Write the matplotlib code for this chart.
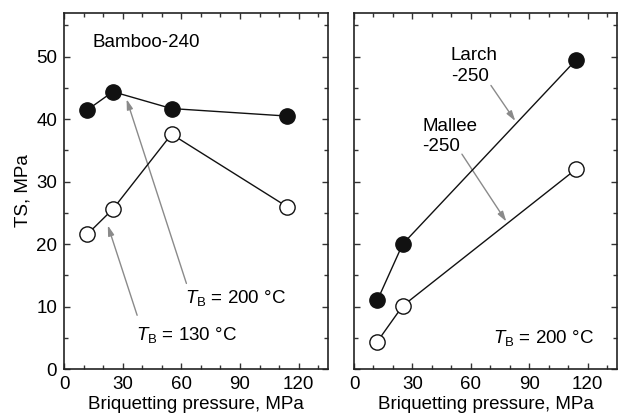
import matplotlib
matplotlib.use("Agg")
import matplotlib.pyplot as plt
from matplotlib.ticker import MultipleLocator

plt.rcParams["font.family"] = ["Liberation Sans", "DejaVu Sans"]
plt.rcParams["mathtext.fontset"] = "custom"
plt.rcParams["mathtext.it"] = "Liberation Sans:italic"
plt.rcParams["mathtext.rm"] = "Liberation Sans"

# briquetting pressure, MPa
bamboo_p = [12, 25, 55, 114]
bamboo_ts_200 = [41.5, 44.4, 41.7, 40.5]
bamboo_ts_130 = [21.6, 25.6, 37.6, 26.0]

wood_p = [12, 25, 114]
larch_ts = [11.0, 20.0, 49.5]
mallee_ts = [4.4, 10.1, 32.0]

FS = 13.5
GRAY = "#8a8a8a"

fig = plt.figure(figsize=(6.21, 4.16), dpi=100)
ax1 = fig.add_axes([64 / 621, 47 / 416, 264 / 621, 356 / 416])
ax2 = fig.add_axes([354 / 621, 47 / 416, 263 / 621, 356 / 416])


def style(ax):
    ax.set_xlim(0, 135)
    ax.set_ylim(0, 57)
    ax.xaxis.set_major_locator(MultipleLocator(30))
    ax.xaxis.set_minor_locator(MultipleLocator(10))
    ax.yaxis.set_major_locator(MultipleLocator(10))
    ax.yaxis.set_minor_locator(MultipleLocator(5))
    ax.tick_params(which="both", direction="in", top=True, right=True,
                   labelsize=FS, width=1.0, color="#333333")
    ax.tick_params(which="major", length=4.5, pad=5)
    ax.tick_params(which="minor", length=3)
    for s in ax.spines.values():
        s.set_linewidth(1.2)
        s.set_color("#222222")
    ax.set_xlabel("Briquetting pressure, MPa", fontsize=FS, labelpad=2)


def series(ax, x, y, filled):
    ax.plot(x, y, "-", color="#111111", lw=1.0, marker="o", ms=11,
            mfc="#111111" if filled else "white", mec="#111111", mew=1.0,
            zorder=3)


def arrow(ax, tail, head):
    ax.annotate("", xy=head, xytext=tail,
                arrowprops=dict(arrowstyle="-|>,head_length=0.6,head_width=0.18",
                                color=GRAY, lw=1.0, shrinkA=0, shrinkB=0),
                zorder=2)


style(ax1)
series(ax1, bamboo_p, bamboo_ts_200, True)
series(ax1, bamboo_p, bamboo_ts_130, False)
ax1.set_ylabel("TS, MPa", fontsize=FS, labelpad=3)
ax1.text(14.4, 52.2, "Bamboo-240", fontsize=FS, va="center", ha="left")
arrow(ax1, (62.6, 13.7), (32.0, 43.2))
ax1.text(62.0, 11.4, r"$T_{\mathrm{B}}$ = 200 °C", fontsize=FS, va="center", ha="left")
arrow(ax1, (37.4, 8.6), (22.4, 23.0))
ax1.text(37.0, 5.4, r"$T_{\mathrm{B}}$ = 130 °C", fontsize=FS, va="center", ha="left")

style(ax2)
ax2.tick_params(labelleft=False)
series(ax2, wood_p, larch_ts, True)
series(ax2, wood_p, mallee_ts, False)
ax2.text(49.7, 48.5, "Larch\n-250", fontsize=FS, va="center", ha="left", linespacing=1.25)
arrow(ax2, (70.3, 45.4), (82.8, 39.7))
ax2.text(35.1, 37.2, "Mallee\n-250", fontsize=FS, va="center", ha="left", linespacing=1.25)
arrow(ax2, (55.4, 34.4), (78.2, 23.6))
ax2.text(71.5, 4.9, r"$T_{\mathrm{B}}$ = 200 °C", fontsize=FS, va="center", ha="left")

fig.savefig("out.png", dpi=100)
